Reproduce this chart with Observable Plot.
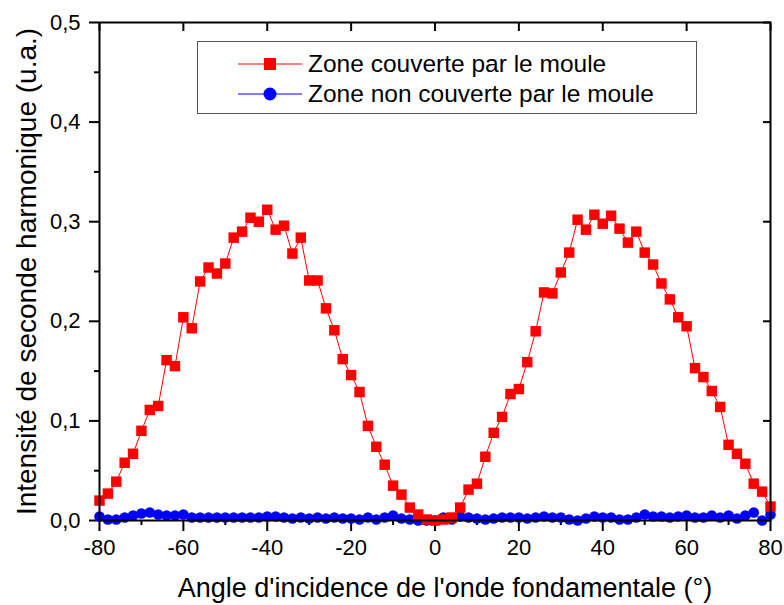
<!DOCTYPE html>
<html><head><meta charset="utf-8">
<script src="https://cdn.jsdelivr.net/npm/d3@7"></script>
<script src="https://cdn.jsdelivr.net/npm/@observablehq/plot@0.6"></script>
<style>
body{margin:0;background:#fff;}
#wrap{position:relative;width:784px;height:605px;font-family:"Liberation Sans",Arial,sans-serif;}
#legend{position:absolute;left:197px;top:41px;width:500px;height:73px;border:1px solid #555;box-sizing:border-box;background:#fff;}
.row{position:absolute;left:0;height:30px;display:flex;align-items:center;}
.row svg{margin-left:40px;}
.row span{margin-left:6px;font-size:24.5px;color:#000;white-space:nowrap;}
</style>
</head><body>
<div id="wrap">
<div id="chart"></div>
<div id="legend"></div>
</div>
<script>
const angles = [-80,-78,-76,-74,-72,-70,-68,-66,-64,-62,-60,-58,-56,-54,-52,-50,-48,-46,-44,-42,-40,-38,-36,-34,-32,-30,-28,-26,-24,-22,-20,-18,-16,-14,-12,-10,-8,-6,-4,-2,0,2,4,6,8,10,12,14,16,18,20,22,24,26,28,30,32,34,36,38,40,42,44,46,48,50,52,54,56,58,60,62,64,66,68,70,72,74,76,78,80];
const covered = [0.020,0.027,0.039,0.058,0.067,0.090,0.111,0.115,0.161,0.155,0.204,0.193,0.240,0.254,0.248,0.258,0.284,0.290,0.304,0.300,0.312,0.292,0.296,0.268,0.284,0.241,0.241,0.213,0.191,0.162,0.146,0.129,0.095,0.074,0.056,0.035,0.026,0.013,0.006,0.001,0.000,0.001,0.003,0.013,0.031,0.037,0.064,0.088,0.104,0.127,0.132,0.159,0.190,0.229,0.228,0.249,0.269,0.302,0.292,0.307,0.298,0.306,0.293,0.279,0.290,0.269,0.257,0.238,0.222,0.204,0.195,0.153,0.144,0.130,0.114,0.076,0.067,0.057,0.037,0.029,0.014];
const uncovered = [0.004,0.001,0.001,0.003,0.005,0.007,0.008,0.006,0.005,0.005,0.006,0.003,0.003,0.003,0.003,0.003,0.003,0.003,0.003,0.003,0.004,0.004,0.003,0.002,0.003,0.002,0.003,0.002,0.003,0.002,0.002,0.001,0.003,0.001,0.003,0.005,0.002,0.001,0.000,0.000,0.000,0.003,0.001,0.004,0.003,0.002,0.001,0.002,0.003,0.003,0.003,0.002,0.003,0.004,0.003,0.003,0.001,0.000,0.002,0.004,0.003,0.003,0.001,0.001,0.003,0.006,0.004,0.004,0.003,0.004,0.005,0.003,0.003,0.005,0.003,0.005,0.002,0.005,0.008,0.000,0.006];
const xTicks = [-80,-60,-40,-20,0,20,40,60,80];
const xMinor = [-70,-50,-30,-10,10,30,50,70];
const yTicks = [0,0.1,0.2,0.3,0.4,0.5];
const yMinor = [0.05,0.15,0.25,0.35,0.45];
const seriesNames = ["Zone couverte par le moule","Zone non couverte par le moule"];
const xLabel = "Angle d'incidence de l'onde fondamentale (°)";
const yLabel = "Intensité de seconde harmonique (u.a.)";

const redData = angles.map((a,i)=>({x:a,y:covered[i]}));
const blueData = angles.map((a,i)=>({x:a,y:uncovered[i]}));
const fmt = d => d3.format(".1f")(d).replace(".", ",");
const blank = () => "";

const chart = Plot.plot({
  width: 784, height: 605,
  marginLeft: 99, marginRight: 14, marginTop: 22, marginBottom: 85,
  x: {domain: [-80, 80]},
  y: {domain: [0, 0.5]},
  style: {fontFamily: "'Liberation Sans', Arial, sans-serif", fontSize: "22px", color: "black", background: "white"},
  marks: [
    Plot.axisX(xTicks, {anchor: "bottom", tickSize: 11, tickPadding: 8, tickFormat: d => String(d), strokeWidth: 2, label: null, fontSize: 22}),
    Plot.axisX(xMinor, {anchor: "bottom", tickSize: 5, tickFormat: blank, strokeWidth: 2, label: null}),
    Plot.axisX(xTicks, {anchor: "top", tickSize: -8, tickFormat: blank, strokeWidth: 2, label: null}),
    Plot.axisY(yTicks, {anchor: "left", tickSize: 10, tickPadding: 9, tickFormat: fmt, strokeWidth: 2, label: null, fontSize: 22}),
    Plot.axisY(yMinor, {anchor: "left", tickSize: 5, tickFormat: blank, strokeWidth: 2, label: null}),
    Plot.axisY(yTicks, {anchor: "right", tickSize: -8, tickFormat: blank, strokeWidth: 2, label: null}),
    Plot.line(blueData, {x: "x", y: "y", stroke: "#0000ff", strokeWidth: 1}),
    Plot.dot(blueData, {x: "x", y: "y", r: 5.3, fill: "#0000ff", symbol: "circle"}),
    Plot.line(redData, {x: "x", y: "y", stroke: "#ff0000", strokeWidth: 1}),
    Plot.dot(redData, {x: "x", y: "y", r: 5.9, fill: "#ff0000", symbol: "square"}),
    Plot.frame({strokeWidth: 2, stroke: "black"}),
    Plot.text([xLabel], {frameAnchor: "bottom", textAnchor: "middle", lineAnchor: "middle", dx: 10, dy: 68, fontSize: 27, fill: "black"}),
    Plot.text([yLabel], {frameAnchor: "left", textAnchor: "middle", lineAnchor: "middle", rotate: -90, dx: -72, fontSize: 28, fill: "black"})
  ]
});
document.getElementById("chart").appendChild(chart);

const legend = document.getElementById("legend");
const colors = ["#ff0000", "#0000ff"];
seriesNames.forEach((name, i) => {
  const row = document.createElement("div");
  row.className = "row";
  row.style.top = (7 + i * 30) + "px";
  const sym = i === 0
    ? `<rect x="26" y="7" width="12" height="12" fill="${colors[i]}"/>`
    : `<circle cx="32" cy="13" r="6.5" fill="${colors[i]}"/>`;
  row.innerHTML = `<svg width="64" height="26"><line x1="0" x2="64" y1="13" y2="13" stroke="${colors[i]}" stroke-width="1"/>${sym}</svg><span>${name}</span>`;
  legend.appendChild(row);
});
</script>
</body></html>
